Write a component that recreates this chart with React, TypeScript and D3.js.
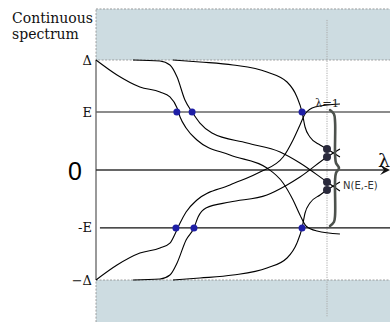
import React from 'react';
import * as d3 from 'd3';

const W = 390;
const H = 322;

// energy levels, in units of the gap Δ
const levelE = 0.527;
const levelNames = ['Δ', 'E', '-E', '−Δ'];
const levelValues = [1, levelE, -levelE, -1];

// branches coming down from the upper continuum: [λ, energy/Δ]
const downBranch1 = [
  [0, 1], [0.091, 0.864], [0.19, 0.755], [0.277, 0.709], [0.32, 0.664], [0.351, 0.564],
  [0.364, 0.482], [0.39, 0.382], [0.437, 0.273], [0.58, 0.136], [0.74, 0.018],
  [0.81, -0.118], [0.853, -0.273], [0.883, -0.409], [0.909, -0.509], [0.957, -0.555], [1.056, -0.582],
];
const downBranch2 = [
  [0.16, 1], [0.277, 0.991], [0.32, 0.955], [0.351, 0.845], [0.385, 0.636], [0.416, 0.527],
  [0.45, 0.427], [0.502, 0.336], [0.654, 0.245], [0.797, 0.164], [0.883, 0.064],
  [1.0, -0.109], [1.056, -0.191],
];
const downBranch3 = [
  [0.333, 1], [0.45, 0.982], [0.593, 0.955], [0.74, 0.891], [0.827, 0.8], [0.87, 0.664],
  [0.892, 0.527], [0.905, 0.391], [0.926, 0.3], [0.97, 0.227], [1.0, 0.191], [1.056, 0.118],
];

// branches coming up from the lower continuum
const upBranch1 = [
  [0, -1], [0.091, -0.864], [0.19, -0.755], [0.277, -0.709], [0.32, -0.664], [0.346, -0.564],
  [0.364, -0.482], [0.39, -0.382], [0.437, -0.273], [0.58, -0.136], [0.71, -0.018],
  [0.81, 0.118], [0.853, 0.273], [0.883, 0.409], [0.905, 0.509], [0.948, 0.573], [1.056, 0.6],
];
const upBranch2 = [
  [0.16, -1], [0.277, -0.991], [0.32, -0.955], [0.351, -0.845], [0.39, -0.636], [0.424, -0.527],
  [0.442, -0.427], [0.476, -0.345], [0.58, -0.291], [0.74, -0.227], [0.827, -0.136],
  [0.883, -0.064], [1.0, 0.118], [1.056, 0.191],
];
const upBranch3 = [
  [0.333, -1], [0.45, -0.982], [0.593, -0.955], [0.74, -0.891], [0.827, -0.8], [0.87, -0.664],
  [0.892, -0.527], [0.905, -0.391], [0.926, -0.3], [0.97, -0.227], [1.0, -0.182], [1.056, -0.109],
];

const branches = [downBranch1, downBranch2, downBranch3, upBranch1, upBranch2, upBranch3];

// crossings with ±E (blue) and states at λ=1 (dark)
const crossingsAtE = [0.35, 0.416, 0.892];
const crossingsAtMinusE = [0.346, 0.424, 0.892];
const statesAtLambdaOne = [0.191, 0.118, -0.109, -0.182];

// brace grouping the λ=1 states
const bracePoints = [
  [1.013, 0.545], [1.03, 0.509], [1.035, 0.436], [1.035, 0.136], [1.039, 0.064], [1.052, 0.018],
  [1.039, -0.027], [1.035, -0.091], [1.035, -0.409], [1.03, -0.473], [1.013, -0.509],
];

export default function App() {
  const x = d3.scaleLinear().domain([0, 1]).range([96, 327]);
  const y = d3.scaleLinear().domain([-1, 1]).range([280, 60]);

  const line = d3.line<number[]>()
    .x(d => x(d[0]))
    .y(d => y(d[1]))
    .curve(d3.curveMonotoneX);

  const braceLine = d3.line<number[]>()
    .x(d => x(d[0]))
    .y(d => y(d[1]))
    .curve(d3.curveCatmullRom);

  const xEnd = x(1.3);
  const arrowTip = x(1.273);
  const serif = '"DejaVu Serif", serif';

  return (
    <svg width={W} height={H} style={{ position: 'absolute', left: 0, top: 0, background: '#fff' }}>
      {/* continuum bands */}
      <rect x={x(0)} y={y(1.464)} width={xEnd - x(0)} height={y(1) - y(1.464)}
        fill="#cddce1" stroke="#8a8a8a" strokeWidth={0.8} strokeDasharray="2,1.5" />
      <rect x={x(0)} y={y(-1)} width={xEnd - x(0)} height={y(-1.5) - y(-1)}
        fill="#cddce1" stroke="#8a8a8a" strokeWidth={0.8} strokeDasharray="2,1.5" />

      {/* vertical energy axis */}
      <line x1={x(0)} x2={x(0)} y1={y(1)} y2={y(-1)} stroke="#777" strokeWidth={1.5} />

      {/* λ=1 marker */}
      <line x1={x(1)} x2={x(1)} y1={y(1.364)} y2={y(-1.33)} stroke="#aaa" strokeWidth={1} strokeDasharray="1.2,1.2" />

      {/* levels */}
      <line x1={x(0)} x2={xEnd} y1={y(levelE)} y2={y(levelE)} stroke="#666" strokeWidth={1.5} />
      <line x1={x(0.017)} x2={xEnd} y1={y(-levelE)} y2={y(-levelE)} stroke="#111" strokeWidth={1.2} />
      <line x1={x(0)} x2={arrowTip - 4} y1={y(0)} y2={y(0)} stroke="#333" strokeWidth={1.4} />
      <path d={`M${arrowTip},${y(0)} L${arrowTip - 10},${y(0) - 5} L${arrowTip - 6},${y(0)} L${arrowTip - 10},${y(0) + 5} Z`} fill="#111" />

      {/* spectral branches */}
      {branches.map((b, i) => (
        <path key={i} d={line(b as number[][]) ?? ''} fill="none" stroke="#000" strokeWidth={1.1} />
      ))}

      {/* brace */}
      <path d={braceLine(bracePoints) ?? ''} fill="none" stroke="#4d524d" strokeWidth={2.6} strokeLinecap="round" />

      {/* crossings */}
      {crossingsAtE.map((l, i) => (
        <circle key={'e' + i} cx={x(l)} cy={y(levelE)} r={3.5} fill="#1f1fa6" />
      ))}
      {crossingsAtMinusE.map((l, i) => (
        <circle key={'m' + i} cx={x(l)} cy={y(-levelE)} r={3.5} fill="#1f1fa6" />
      ))}
      {statesAtLambdaOne.map((v, i) => (
        <circle key={'s' + i} cx={x(1)} cy={y(v)} r={4} fill="#2a2a3c" />
      ))}

      {/* labels */}
      <text x={12} y={23} fontFamily={serif} fontSize={14} fill="#111">Continuous</text>
      <text x={12} y={39} fontFamily={serif} fontSize={14} fill="#111">spectrum</text>
      {levelNames.map((n, i) => (
        <text key={n} x={92} y={y(levelValues[i]) + 4.5} textAnchor="end" fontFamily={serif} fontSize={13} fill="#111">{n}</text>
      ))}
      <text x={75} y={y(0) + 10} textAnchor="middle" fontFamily='"Liberation Sans", sans-serif' fontSize={25} fill="#000">0</text>
      <text x={x(1)} y={y(levelE) - 5} textAnchor="middle" fontFamily={serif} fontSize={11.5} fill="#222">λ=1</text>
      <text x={384} y={y(0) - 3} textAnchor="middle" fontFamily={serif} fontSize={19} fill="#111">λ</text>
      <text x={343} y={y(0) + 19} fontFamily='"DejaVu Sans", sans-serif' fontSize={10} fill="#333">N(E,-E)</text>
    </svg>
  );
}
